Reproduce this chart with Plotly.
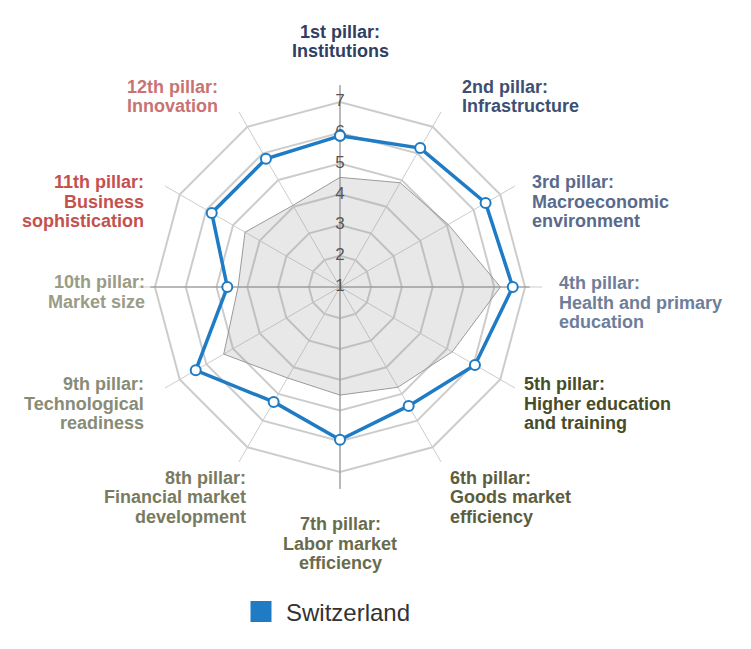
import plotly.graph_objects as go

categories = [
    "1st pillar: Institutions",
    "2nd pillar: Infrastructure",
    "3rd pillar: Macroeconomic environment",
    "4th pillar: Health and primary education",
    "5th pillar: Higher education and training",
    "6th pillar: Goods market efficiency",
    "7th pillar: Labor market efficiency",
    "8th pillar: Financial market development",
    "9th pillar: Technological readiness",
    "10th pillar: Market size",
    "11th pillar: Business sophistication",
    "12th pillar: Innovation",
]
label_lines = [
    ["1st pillar:", "Institutions"],
    ["2nd pillar:", "Infrastructure"],
    ["3rd pillar:", "Macroeconomic", "environment"],
    ["4th pillar:", "Health and primary", "education"],
    ["5th pillar:", "Higher education", "and training"],
    ["6th pillar:", "Goods market", "efficiency"],
    ["7th pillar:", "Labor market", "efficiency"],
    ["8th pillar:", "Financial market", "development"],
    ["9th pillar:", "Technological", "readiness"],
    ["10th pillar:", "Market size"],
    ["11th pillar:", "Business", "sophistication"],
    ["12th pillar:", "Innovation"],
]
label_colors = ["#2e3f62", "#3d4f72", "#5a6a8c", "#6e7e9a", "#464d28", "#5a5e3e",
                "#686c4e", "#787b60", "#888c76", "#9a9c86", "#c4514e", "#c87372"]

switzerland = [5.9, 6.2, 6.45, 6.6, 6.05, 5.45, 5.95, 5.3, 6.4, 4.65, 5.8, 5.8]
benchmark = [4.55, 4.9, 5.05, 6.2, 5.2, 4.75, 4.5, 4.4, 5.35, 4.3, 4.55, 4.05]

radial_ticks = [1, 2, 3, 4, 5, 6, 7]
radial_labels = ["1", "2", "3", "4", "5", "6", "7"]
r_min, r_max = 0.99, 7.55
r_axis_end = 7.15

BLUE = "#1f7cc4"
FONT = "Liberation Sans"
W, H = 751, 649

# label placement (pixels): anchor x, first-line centre y, x anchor
label_pos = [
    (340, 32, "center"), (461, 87, "left"), (531, 182, "left"), (558, 283, "left"),
    (523, 384, "left"), (449, 478, "left"), (340, 524, "center"), (247, 478, "right"),
    (145, 384, "right"), (146, 282, "right"), (145, 182, "right"), (219, 87, "right"),
]
LINE_STEP = 19.5

fig = go.Figure()

# benchmark (gray area)
fig.add_trace(go.Scatterpolar(
    r=benchmark + benchmark[:1], theta=categories + categories[:1],
    mode="lines", fill="toself", fillcolor="rgba(150,150,150,0.22)",
    line=dict(color="#9a9a9a", width=1), showlegend=False, hoverinfo="skip"))

# main axes through centre (darker)
fig.add_trace(go.Scatterpolar(
    r=[r_max, radial_ticks[0], r_max], theta=[categories[0], categories[0], categories[6]],
    mode="lines", line=dict(color="#8c8c8c", width=1), showlegend=False, hoverinfo="skip"))
fig.add_trace(go.Scatterpolar(
    r=[r_axis_end, radial_ticks[0], r_axis_end], theta=[categories[9], categories[9], categories[3]],
    mode="lines", line=dict(color="#8c8c8c", width=1), showlegend=False, hoverinfo="skip"))

# radial tick labels along the top spoke
fig.add_trace(go.Scatterpolar(
    r=radial_ticks, theta=[categories[0]] * len(radial_ticks), text=radial_labels,
    mode="text", textposition="middle center", cliponaxis=False,
    textfont=dict(family=FONT, size=17, color="#555555"),
    showlegend=False, hoverinfo="skip"))

# Switzerland
fig.add_trace(go.Scatterpolar(
    r=switzerland + switzerland[:1], theta=categories + categories[:1],
    mode="lines+markers", line=dict(color=BLUE, width=3.5),
    marker=dict(size=10, color="white", line=dict(color=BLUE, width=2)),
    showlegend=False, name="Switzerland", cliponaxis=False))

# legend entry (square)
fig.add_trace(go.Scatterpolar(
    r=[None], theta=[categories[0]], mode="markers", name="Switzerland",
    marker=dict(symbol="square", size=16, color=BLUE, line=dict(color=BLUE, width=6)),
    showlegend=True))

annotations = []
for lines, color, (px, py, anchor) in zip(label_lines, label_colors, label_pos):
    for k, line in enumerate(lines):
        annotations.append(dict(
            text=f"<b>{line}</b>", x=px / W, y=1 - (py + k * LINE_STEP) / H,
            xref="paper", yref="paper", xanchor=anchor, yanchor="middle",
            showarrow=False, borderpad=0,
            font=dict(family=FONT, size=18, color=color)))

fig.update_layout(
    width=W, height=H,
    margin=dict(l=0, r=0, t=0, b=0),
    paper_bgcolor="white", plot_bgcolor="white",
    font=dict(family=FONT),
    annotations=annotations,
    polar=dict(
        domain=dict(x=[138 / W, 542 / W], y=[1 - 489 / H, 1 - 85 / H]),
        bgcolor="white",
        gridshape="linear",
        radialaxis=dict(range=[r_min, r_max], tickvals=radial_ticks[1:], showticklabels=False,
                        showline=False, ticks="", gridcolor="#cccccc", gridwidth=1.5),
        angularaxis=dict(direction="clockwise", rotation=90, categoryorder="array",
                         categoryarray=categories, showticklabels=False,
                         showline=False, gridcolor="#cccccc", gridwidth=1.2, ticks=""),
    ),
    showlegend=True,
    legend=dict(x=236 / W, y=1 - 612 / H, xanchor="left", yanchor="middle",
                font=dict(family=FONT, size=24, color="#333333"),
                itemwidth=40, bgcolor="rgba(0,0,0,0)"),
)

fig.write_html("out.html")
